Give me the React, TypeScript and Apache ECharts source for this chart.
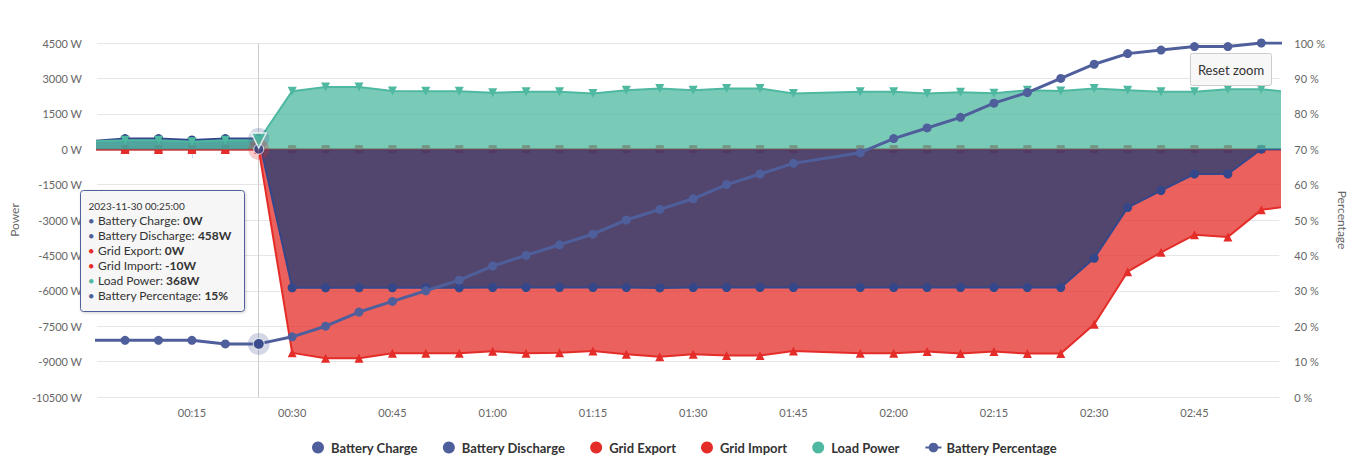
import React, { useEffect, useRef } from 'react';
import * as echarts from 'echarts';

// ---- data (minutes after 2023-11-30 00:00) ----
const MINUTES = [0, 5, 10, 15, 20, 25, 30, 35, 40, 45, 50, 55, 60, 65, 70, 75, 80, 85, 90, 95, 100, 105,
  115, 120, 125, 130, 135, 140, 145, 150, 155, 160, 165, 170, 175, 180];
const BATTERY_CHARGE = [0, 0, 0, 0, 0, 0, 0, 0, 0, 0, 0, 0, 0, 0, 0, 0, 0, 0, 0, 0, 0, 0,
  0, 0, 0, 0, 0, 0, 0, 0, 0, 0, 0, 0, 0, 0];
const BATTERY_DISCHARGE = [350, 450, 450, 390, 450, 458, -5870, -5870, -5870, -5870, -5870, -5870, -5860, -5860, -5860, -5860, -5860, -5880, -5860, -5860, -5860, -5860,
  -5860, -5860, -5865, -5865, -5865, -5865, -5865, -4620, -2475, -1755, -1050, -1050, 0, 0];
const GRID_EXPORT = [0, 0, 0, 0, 0, 0, 0, 0, 0, 0, 0, 0, 0, 0, 0, 0, 0, 0, 0, 0, 0, 0,
  0, 0, 0, 0, 0, 0, 0, 0, 0, 0, 0, 0, 0, 0];
const GRID_IMPORT = [-10, -10, -10, -10, -10, -10, -8630, -8860, -8860, -8650, -8650, -8650, -8560, -8650, -8620, -8550, -8690, -8790, -8690, -8745, -8745, -8550,
  -8650, -8650, -8575, -8660, -8575, -8660, -8660, -7420, -5190, -4370, -3630, -3720, -2570, -2390];
const LOAD_POWER = [330, 380, 380, 320, 380, 368, 2460, 2640, 2640, 2470, 2460, 2460, 2390, 2430, 2430, 2360, 2500, 2570, 2500, 2570, 2570, 2360,
  2430, 2430, 2360, 2410, 2370, 2500, 2470, 2570, 2500, 2430, 2430, 2540, 2540, 2400];
const BATTERY_PERCENTAGE = [16, 16, 16, 16, 15, 15, 17, 20, 24, 27, 30, 33, 37, 40, 43, 46, 50, 53, 56, 60, 63, 66,
  69, 73, 76, 79, 83, 86, 90, 94, 97, 98, 99, 99, 100, 100];

const LEGEND_NAMES = ['Battery Charge', 'Battery Discharge', 'Grid Export', 'Grid Import', 'Load Power', 'Battery Percentage'];
const HOVER_INDEX = 5;
const VIEW_START_MIN = 0.8;
const VIEW_END_MIN = 177.7;

const BASE = new Date(2023, 10, 30, 0, 0, 0).getTime();
const T = MINUTES.map((m) => BASE + m * 60000);
const pairs = (arr: number[]) => T.map((t, i) => [t, arr[i]]);

const BLUE = '#4f5f9c';
const DBLUE = '#34478a';
const RED = '#e42c28';
const TEAL = '#4eb8a0';
const FONT = 'Lato';

const pad = (n: number) => (n < 10 ? '0' + n : '' + n);
const fmtDate = (v: number) => {
  const d = new Date(v);
  return `${d.getFullYear()}-${pad(d.getMonth() + 1)}-${pad(d.getDate())} ${pad(d.getHours())}:${pad(d.getMinutes())}:${pad(d.getSeconds())}`;
};

function buildOption() {
  const hi = HOVER_INDEX;
  const ht = T[hi];

  const areaSeries = (name: string, data: number[], color: string, symbol: string, size: number, z: number, extra: any = {}) => ({
    type: 'line',
    name,
    z,
    data: pairs(data),
    color,
    symbol,
    symbolSize: size,
    showSymbol: true,
    showAllSymbol: true,
    lineStyle: { width: 2, color },
    itemStyle: { color },
    areaStyle: { color, opacity: 0.75 },
    emphasis: { disabled: true },
    clip: true,
    ...extra,
  });

  const tipRows = [
    { name: LEGEND_NAMES[0], color: BLUE, value: BATTERY_CHARGE[hi] + 'W' },
    { name: LEGEND_NAMES[1], color: BLUE, value: BATTERY_DISCHARGE[hi] + 'W' },
    { name: LEGEND_NAMES[2], color: RED, value: GRID_EXPORT[hi] + 'W' },
    { name: LEGEND_NAMES[3], color: RED, value: GRID_IMPORT[hi] + 'W' },
    { name: LEGEND_NAMES[4], color: TEAL, value: LOAD_POWER[hi] + 'W' },
    { name: LEGEND_NAMES[5], color: BLUE, value: BATTERY_PERCENTAGE[hi] + '%' },
  ];

  const TX = 80.5;
  const TY = 190.5;
  const graphics: any[] = [
    {
      type: 'rect', z: 100,
      shape: { x: TX, y: TY, width: 164, height: 121, r: 3 },
      style: {
        fill: 'rgba(247,247,247,0.92)', stroke: BLUE, lineWidth: 1,
        shadowBlur: 3, shadowColor: 'rgba(0,0,0,0.18)', shadowOffsetX: 1, shadowOffsetY: 1,
      },
    },
    {
      type: 'text', z: 101,
      x: TX + 8, y: TY + 15.5,
      style: { text: fmtDate(ht), fontSize: 10, fontFamily: FONT, fill: '#333333', verticalAlign: 'middle' },
    },
  ];
  tipRows.forEach((r, i) => {
    graphics.push({
      type: 'text', z: 101,
      x: TX + 8, y: TY + 30 + i * 15,
      style: {
        text: `{dot|●} ${r.name}: {val|${r.value}}`,
        fontSize: 12, fontFamily: FONT, fill: '#333333', verticalAlign: 'middle',
        rich: {
          dot: { fill: r.color, fontSize: 9, fontFamily: FONT, padding: [0, 1, 0, 0] },
          val: { fontWeight: 'bold', fontSize: 12, fontFamily: FONT, fill: '#333333' },
        },
      },
    });
  });
  graphics.push(
    { type: 'rect', z: 100, shape: { x: 1190.5, y: 53.5, width: 81, height: 32, r: 2 }, style: { fill: '#f7f7f7', stroke: '#cccccc', lineWidth: 1 } },
    { type: 'text', z: 101, x: 1231, y: 69.5, style: { text: 'Reset zoom', fontSize: 13, fontFamily: FONT, fill: '#333333', align: 'center', verticalAlign: 'middle' } },
  );

  return {
    animation: false,
    textStyle: { fontFamily: FONT },
    grid: { left: 97, right: 75, top: 43, bottom: 77, containLabel: false },
    legend: {
      data: LEGEND_NAMES.map((n, i) =>
        i < 5 ? { name: n, icon: 'circle', itemStyle: { color: i < 2 ? BLUE : i < 4 ? RED : TEAL } } : { name: n }),
      left: 307,
      top: 436,
      itemWidth: 16,
      itemHeight: 12,
      itemGap: 25,
      textStyle: { fontFamily: FONT, fontSize: 13, fontWeight: 'bold', color: '#333333' },
      selectedMode: false,
    },
    xAxis: {
      type: 'time',
      min: BASE + VIEW_START_MIN * 60000,
      max: BASE + VIEW_END_MIN * 60000,
      minInterval: 16 * 60000,
      maxInterval: 16 * 60000,
      axisLine: { lineStyle: { color: '#ccd6eb', width: 1 } },
      axisTick: { show: true, length: 9, lineStyle: { color: '#ccd6eb' } },
      minorTick: { show: false },
      splitLine: { show: false },
      axisLabel: {
        color: '#666666', fontSize: 11, fontFamily: FONT, margin: 10,
        showMinLabel: false, showMaxLabel: false,
        formatter: (v: number) => {
          const d = new Date(v);
          return pad(d.getHours()) + ':' + pad(d.getMinutes());
        },
      },
    },
    yAxis: [
      {
        type: 'value',
        min: -10500, max: 4500, interval: 1500,
        name: 'Power', nameLocation: 'middle', nameRotate: 90, nameGap: 73,
        nameTextStyle: { color: '#666666', fontSize: 12, fontFamily: FONT },
        axisLine: { show: false }, axisTick: { show: false },
        axisLabel: { formatter: (v: number) => `${v} W`, color: '#666666', fontSize: 11, fontFamily: FONT, margin: 15 },
        splitLine: { lineStyle: { color: '#e6e6e6', width: 1 } },
      },
      {
        type: 'value',
        min: 0, max: 100, interval: 10,
        name: 'Percentage', nameLocation: 'middle', nameRotate: -90, nameGap: 53,
        nameTextStyle: { color: '#666666', fontSize: 12, fontFamily: FONT },
        axisLine: { show: false }, axisTick: { show: false },
        axisLabel: { formatter: (v: number) => `${v} %`, color: '#666666', fontSize: 11, fontFamily: FONT, margin: 15 },
        splitLine: { show: false },
      },
    ],
    series: [
      areaSeries(LEGEND_NAMES[0], BATTERY_CHARGE, BLUE, 'circle', 8, 2, {
        markLine: {
          silent: true, symbol: ['none', 'none'], label: { show: false },
          lineStyle: { color: '#cccccc', width: 1, type: 'solid' },
          emphasis: { disabled: true },
          data: [{ xAxis: ht }],
        },
      }),
      areaSeries(LEGEND_NAMES[2], GRID_EXPORT, RED, 'rect', 8, 3),
      areaSeries(LEGEND_NAMES[3], GRID_IMPORT, RED, 'triangle', 9, 4),
      areaSeries(LEGEND_NAMES[1], BATTERY_DISCHARGE, DBLUE, 'circle', 9, 5, {
        areaStyle: { color: 'rgb(31,61,118)', opacity: 0.75 },
      }),
      areaSeries(LEGEND_NAMES[4], LOAD_POWER, TEAL, 'triangle', 9, 6, { symbolRotate: 180 }),
      {
        type: 'line',
        name: LEGEND_NAMES[5],
        yAxisIndex: 1,
        z: 7,
        data: pairs(BATTERY_PERCENTAGE),
        color: BLUE,
        symbol: 'circle',
        symbolSize: 9,
        showSymbol: true,
        showAllSymbol: true,
        lineStyle: { width: 3, color: BLUE },
        itemStyle: { color: BLUE },
        emphasis: { disabled: true },
        clip: true,
      },
      // hover halos
      {
        type: 'scatter', name: 'hover-halo', z: 8, silent: true, symbolSize: 21,
        data: [
          { value: [ht, BATTERY_DISCHARGE[hi]], itemStyle: { color: BLUE, opacity: 0.25 } },
          { value: [ht, GRID_IMPORT[hi]], itemStyle: { color: RED, opacity: 0.25 } },
        ],
      },
      {
        type: 'scatter', name: 'hover-halo-pct', yAxisIndex: 1, z: 8, silent: true, symbolSize: 22,
        data: [{ value: [ht, BATTERY_PERCENTAGE[hi]], itemStyle: { color: BLUE, opacity: 0.25 } }],
      },
      {
        type: 'scatter', name: 'hover-marker', z: 9, silent: true,
        data: [
          { value: [ht, BATTERY_CHARGE[hi]], symbol: 'circle', symbolSize: 10, itemStyle: { color: DBLUE, borderColor: '#ffffff', borderWidth: 1 } },
          { value: [ht, LOAD_POWER[hi]], symbol: 'triangle', symbolRotate: 180, symbolSize: 15, itemStyle: { color: TEAL, borderColor: '#ffffff', borderWidth: 1.5 } },
        ],
      },
      {
        type: 'scatter', name: 'hover-marker-pct', yAxisIndex: 1, z: 9, silent: true,
        data: [{ value: [ht, BATTERY_PERCENTAGE[hi]], symbol: 'circle', symbolSize: 11, itemStyle: { color: DBLUE, borderColor: '#ffffff', borderWidth: 1 } }],
      },
    ],
    graphic: graphics,
  };
}

export default function App() {
  const ref = useRef<HTMLDivElement>(null);
  useEffect(() => {
    if (!ref.current) return;
    const chart = echarts.init(ref.current, null, { renderer: 'svg' });
    chart.setOption(buildOption() as any);
    return () => chart.dispose();
  }, []);
  return <div ref={ref} style={{ position: 'absolute', left: 0, top: 0, width: 1356, height: 474 }} />;
}
